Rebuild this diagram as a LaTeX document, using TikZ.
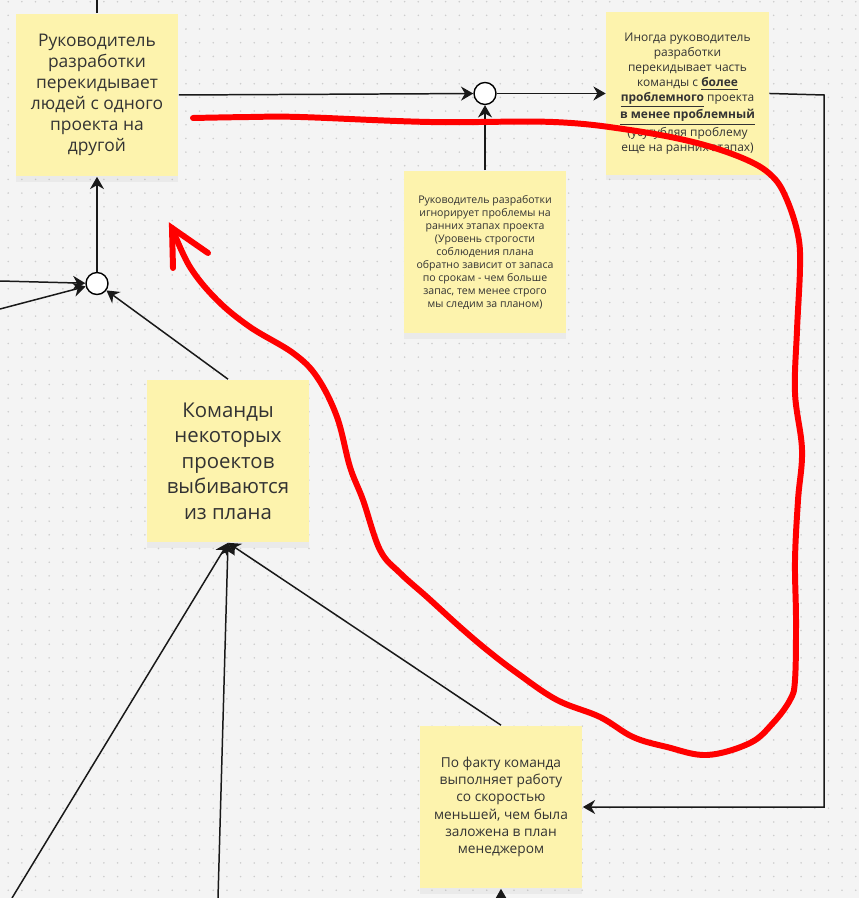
\documentclass[tikz,border=0pt]{standalone}
\usepackage{fontspec}
\setmainfont{Open Sans}
\usetikzlibrary{positioning}
\usetikzlibrary{arrows.meta}
\usetikzlibrary{shadows}

\definecolor{sticky}{RGB}{253,243,173}
\definecolor{ink}{RGB}{51,51,51}
\definecolor{board}{RGB}{244,244,244}
\definecolor{dotgray}{RGB}{205,205,205}
\definecolor{marker}{RGB}{255,0,0}

\tikzset{
  note/.style={fill=sticky, text=ink, align=center, inner sep=0pt,
    minimum width=3.26cm, minimum height=3.26cm,
    drop shadow={opacity=0.08, shadow xshift=0pt, shadow yshift=-3pt}},
  junction/.style={circle, draw=black, fill=white, line width=0.8pt,
    minimum size=0.44cm, inner sep=0pt},
  link/.style={draw=black!90, line width=0.85pt},
}

\begin{document}
\begin{tikzpicture}[x=0.02cm, y=-0.02cm, >={Stealth[length=7pt,width=8pt]}]
    \fill[board] (0,0) rectangle (859,898);
    \useasboundingbox (0,0) rectangle (859,898);
    \foreach \i in {0,...,62}
      \foreach \j in {0,...,65}
        \fill[dotgray] (8.2+13.67*\i, 1.7+13.67*\j) circle (0.5pt);

    \node[note, font=\fontsize{9.9}{11.9}\selectfont] (lead) at (97,95)
      {Руководитель\\разработки\\перекидывает\\людей с одного\\проекта на\\другой};
    \node[junction, below=1.9cm of lead] (c2) {};
    \node[note, font=\fontsize{6}{7.4}\selectfont] (ignore) at (485,252)
      {Руководитель разработки\\игнорирует проблемы на\\ранних этапах проекта\\(Уровень строгости\\соблюдения плана\\обратно зависит от запаса\\по срокам - чем больше\\запас, тем менее строго\\мы следим за планом)};
    \node[junction, above=1.3cm of ignore] (c1) {};
    \node[note, right=2.18cm of c1, font=\fontsize{6.8}{8.5}\selectfont] (shift)
      {Иногда руководитель\\разработки\\перекидывает часть\\команды с \underline{\textbf{более}}\\\underline{\textbf{проблемного}} проекта\\\underline{\textbf{в менее проблемный}}\\(усугубляя проблему\\еще на ранних этапах)};
    \node[note, font=\fontsize{11.6}{14.5}\selectfont] (teams) at (228,461)
      {Команды\\некоторых\\проектов\\выбиваются\\из плана};
    \node[note, font=\fontsize{7.8}{9.8}\selectfont] (fact) at (501,807)
      {По факту команда\\выполняет работу\\со скоростью\\меньшей, чем была\\заложена в план\\менеджером};

    % Free ends
    \coordinate (top) at (97,0);
    \coordinate (in1) at (0,281);
    \coordinate (in2) at (0,309);
    \coordinate (turn) at (824,95);
    \coordinate (low1) at (12,898);
    \coordinate (low2) at (218,898);
    \coordinate (low3) at (501,898);

    % Edges
    \draw[link] (lead) -- (top);
    \draw[link, ->] (lead.east) -- (c1);
    \draw[link, ->] (c1) -- (shift);
    \draw[link, ->] (ignore) -- (c1);
    \draw[link, ->] (shift.east) -- (turn) |- (fact.east);
    \draw[link, ->] (c2) -- (lead);
    \draw[link, ->] (in1) -- (c2);
    \draw[link, ->] (in2) -- (c2);
    \draw[link, ->] (teams.north) -- (c2);
    \draw[link, ->] (low1) -- (teams.south);
    \draw[link, ->] (low2) -- (teams.south);
    \draw[link, ->] (fact.north) -- (teams.south);
    \draw[link, ->] (low3) -- (fact);

    % Red marker
    \draw[marker, line width=3.4pt, line cap=round, line join=round]
      plot[smooth, tension=0.6] coordinates {(193,118) (250,117) (300,117)
      (430,122) (553,122) (630,130) (697,143) (747,160) (773,177) (787,200)
      (798,235) (800,267) (797,330) (795,393) (802,450) (798,500) (795,560)
      (796,620) (795,680) (790,700) (773,723) (750,743) (707,755) (667,747)
      (633,737) (600,717) (557,700) (517,673) (487,650) (460,627) (427,597)
      (400,573) (380,550) (363,500) (350,467) (337,417) (317,377) (293,353)
      (250,327) (217,300) (190,267) (172,228)};
    \draw[marker, line width=3.4pt, line cap=round] (173,268) -- (172,228) -- (208,253);
\end{tikzpicture}
\end{document}
